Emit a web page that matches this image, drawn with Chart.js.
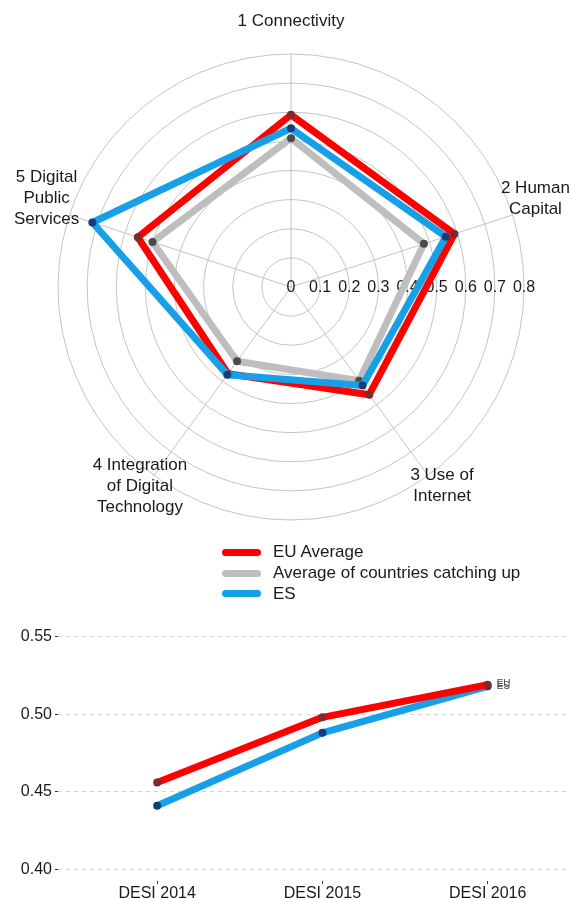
<!DOCTYPE html>
<html>
<head>
<meta charset="utf-8">
<script src="https://cdn.jsdelivr.net/npm/chart.js@4"></script>
<style>
  body { margin: 0; background: #fff; font-family: "Liberation Sans", Arial, sans-serif; }
  #page { position: relative; width: 571px; height: 899px; overflow: hidden; }
  #radarBox { position: absolute; left: 0; top: 0; width: 571px; height: 530px; }
  #trendBox { position: absolute; left: 0; top: 530px; width: 571px; height: 369px; }
  #legend { position: absolute; left: 222px; top: 542px; }
  .item { display: flex; align-items: center; height: 20.7px; font-size: 17px; color: #1a1a1a; white-space: nowrap; }
  .swatch { width: 39px; height: 7px; border-radius: 4px; margin-right: 12px; }
</style>
</head>
<body>
<div id="page">
  <div id="radarBox"><canvas id="radar"></canvas></div>
  <div id="trendBox"><canvas id="trend"></canvas></div>
  <div id="legend"></div>
</div>
<script>
// radar: DESI dimensions
const dimensions = ["1 Connectivity", "2 Human\nCapital", "3 Use of\nInternet", "4 Integration\nof Digital\nTechnology", "5 Digital\nPublic\nServices"];
const radarTicks = [0, 0.1, 0.2, 0.3, 0.4, 0.5, 0.6, 0.7, 0.8];
const euRadar = [0.591, 0.59, 0.457, 0.368, 0.553];
const catchUpRadar = [0.511, 0.48, 0.398, 0.315, 0.5];
const esRadar = [0.545, 0.559, 0.418, 0.372, 0.717];

// trend: overall DESI score
const years = ["DESI 2014", "DESI 2015", "DESI 2016"];
const euTrend = [0.456, 0.498, 0.519];
const esTrend = [0.441, 0.488, 0.518];
const trendTicks = [0.40, 0.45, 0.50, 0.55];

const seriesNames = ["EU Average", "Average of countries catching up", "ES"];
const endLabels = ["EU", "ES"];

const FONT = '"Liberation Sans", Arial, sans-serif';
const RED = "#ff0000", GREY = "#bebebe", BLUE = "#17a0e8";
const RED_PT = "#7b2a30", GREY_PT = "#4a4a4a", BLUE_PT = "#173d75";

// legend (shared by both charts)
const legend = document.getElementById("legend");
[RED, GREY, BLUE].forEach((c, i) => {
  const row = document.createElement("div");
  row.className = "item";
  row.innerHTML = '<span class="swatch" style="background:' + c + '"></span>' + seriesNames[i];
  legend.appendChild(row);
});

// tick values along the 3 o'clock direction + multi-line axis names
const radarText = {
  id: "radarText",
  beforeDatasetsDraw(chart) {
    const r = chart.scales.r;
    const ctx = chart.ctx;
    ctx.save();
    ctx.fillStyle = "#1a1a1a";
    ctx.textAlign = "center";
    ctx.textBaseline = "middle";
    ctx.font = "16px " + FONT;
    radarTicks.forEach(v => {
      ctx.fillText(String(v), r.xCenter + r.getDistanceFromCenterForValue(v), r.yCenter + 1);
    });
    ctx.font = "17px " + FONT;
    dimensions.forEach((label, i) => {
      const p = r.getPointPosition(i, r.drawingArea + 24);
      const lines = label.split("\n");
      lines.forEach((line, k) => {
        ctx.fillText(line, p.x, p.y - 9 + (k - (lines.length - 1) / 2) * 21);
      });
    });
    ctx.restore();
  }
};

new Chart(document.getElementById("radar"), {
  type: "radar",
  data: {
    labels: dimensions,
    datasets: [
      { label: seriesNames[0], data: euRadar, borderColor: RED, pointBackgroundColor: RED_PT, order: 2 },
      { label: seriesNames[1], data: catchUpRadar, borderColor: GREY, pointBackgroundColor: GREY_PT, order: 3 },
      { label: seriesNames[2], data: esRadar, borderColor: BLUE, pointBackgroundColor: BLUE_PT, order: 1 }
    ]
  },
  options: {
    responsive: true,
    maintainAspectRatio: false,
    animation: false,
    layout: { padding: { left: 58, right: 47, top: 54, bottom: 10 } },
    plugins: { legend: { display: false }, tooltip: { enabled: false } },
    elements: {
      line: { borderWidth: 7, tension: 0, fill: false, borderJoinStyle: "round" },
      point: { radius: 4, borderWidth: 0, hoverRadius: 4 }
    },
    scales: {
      r: {
        min: 0,
        max: 0.8,
        ticks: { display: false, stepSize: 0.1 },
        grid: { circular: true, color: "#c4c4c4", lineWidth: 1 },
        angleLines: { color: "#c4c4c4", lineWidth: 1 },
        pointLabels: { display: false }
      }
    }
  },
  plugins: [radarText]
});

const endLabelPlugin = {
  id: "endLabels",
  afterDatasetsDraw(chart) {
    const ctx = chart.ctx;
    ctx.save();
    ctx.font = "10px " + FONT;
    ctx.fillStyle = "#4d4d4d";
    ctx.textAlign = "left";
    ctx.textBaseline = "middle";
    chart.data.datasets.forEach((ds, i) => {
      const pts = chart.getDatasetMeta(i).data;
      const last = pts[pts.length - 1];
      ctx.fillText(endLabels[i], last.x + 9, last.y);
    });
    ctx.restore();
  }
};

new Chart(document.getElementById("trend"), {
  type: "line",
  data: {
    datasets: [
      { label: seriesNames[0], data: euTrend.map((v, i) => ({ x: i, y: v })), borderColor: RED, pointBackgroundColor: RED_PT },
      { label: seriesNames[2], data: esTrend.map((v, i) => ({ x: i, y: v })), borderColor: BLUE, pointBackgroundColor: BLUE_PT }
    ]
  },
  options: {
    responsive: true,
    maintainAspectRatio: false,
    animation: false,
    layout: { padding: { top: 95, left: 0, right: 0, bottom: 0 } },
    plugins: { legend: { display: false }, tooltip: { enabled: false } },
    elements: {
      line: { borderWidth: 7, tension: 0, fill: false, borderJoinStyle: "round" },
      point: { radius: 4, borderWidth: 0, hoverRadius: 4 }
    },
    scales: {
      x: {
        type: "linear",
        min: -0.6,
        max: 2.48,
        afterBuildTicks: s => { s.ticks = years.map((_, i) => ({ value: i })); },
        afterFit: s => { s.height = 18; },
        ticks: { callback: v => years[v], color: "#1a1a1a", font: { family: FONT, size: 16 }, padding: 0, maxRotation: 0, autoSkip: false },
        grid: { drawOnChartArea: false, tickLength: 3, tickColor: "#333" },
        border: { display: false }
      },
      y: {
        min: 0.3925,
        max: 0.5575,
        afterBuildTicks: s => { s.ticks = trendTicks.map(v => ({ value: v })); },
        afterFit: s => { s.width = 58; },
        ticks: { callback: v => v.toFixed(2), color: "#1a1a1a", font: { family: FONT, size: 16 }, padding: 3 },
        grid: { color: "#d2d2d2", tickLength: 3, tickColor: "#333" },
        border: { display: false, dash: [4, 4] }
      }
    }
  },
  plugins: [endLabelPlugin]
});
</script>
</body>
</html>
